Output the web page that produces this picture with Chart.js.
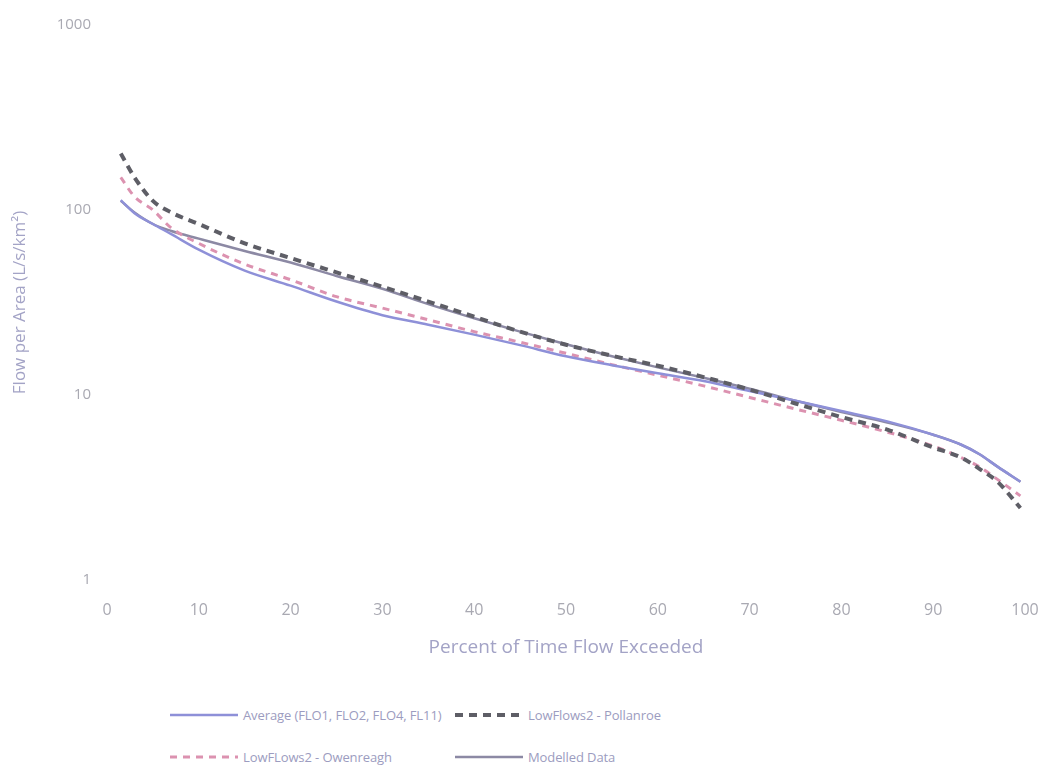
<!DOCTYPE html>
<html lang="en">
<head>
    <meta charset="UTF-8">
    <title>Flow Duration Curve</title>
    <script src="https://cdn.jsdelivr.net/npm/chart.js"></script>
    <style>
        body {
            margin: 0;
            background-color: #fff;
            font-family: 'Open Sans', sans-serif;
        }
        .wrap {
            position: relative;
            width: 1052px;
            height: 778px;
        }
        #flowChart {
            position: absolute;
            left: 0;
            top: 0;
        }
        .legend {
            position: absolute;
            left: 170px;
            top: 700px;
            display: grid;
            grid-template-columns: 285px 285px;
            grid-auto-rows: 42px;
            color: #9c9cc0;
            font-size: 13px;
            letter-spacing: -0.1px;
        }
        .legend-item {
            display: flex;
            align-items: center;
            height: 30px;
            white-space: nowrap;
        }
        .legend-item svg {
            margin-right: 5px;
            flex: none;
        }
    </style>
</head>
<body>

<div class="wrap">
    <canvas id="flowChart" width="1052" height="680"></canvas>
    <div class="legend" id="legend"></div>
</div>

<script>
// percent of time flow exceeded
const pct = [1.5, 3, 5, 7, 10, 15, 20, 25, 30, 35, 40, 45, 50, 55, 60, 65, 70, 75, 80, 85, 90, 93, 95, 97, 99.5];

// flow per area (L/s/km2)
const averageFlow   = [113, 96, 84, 74, 61, 47, 39, 32, 27, 24, 21.2, 18.6, 16.2, 14.5, 13.1, 11.9, 10.5, 9.3, 8.2, 7.2, 6.1, 5.4, 4.8, 4.1, 3.4];
const pollanroeFlow = [202, 150, 112, 97, 84, 66, 55, 46, 38.5, 32, 26.5, 22, 18.7, 16.3, 14.4, 12.5, 10.7, 9.0, 7.6, 6.5, 5.2, 4.6, 4.0, 3.4, 2.45];
const owenreaghFlow = [150, 118, 100, 80, 66, 51, 42, 34, 29.5, 25.5, 22, 19.3, 16.8, 14.6, 12.8, 11.2, 9.7, 8.4, 7.3, 6.3, 5.3, 4.6, 4.1, 3.5, 2.85];
const modelledFlow  = [112, 97, 84, 77, 70, 60, 52, 44, 37.5, 31, 26, 22, 18.8, 16.2, 14.1, 12.4, 10.8, 9.3, 8.1, 7.1, 6.1, 5.4, 4.8, 4.1, 3.4];

const seriesNames = ['Average (FLO1, FLO2, FLO4, FL11)', 'LowFlows2 - Pollanroe', 'LowFLows2 - Owenreagh', 'Modelled Data'];
const xTicks = [0, 10, 20, 30, 40, 50, 60, 70, 80, 90, 100];
const yTicks = [1, 10, 100, 1000];

const tickColor = '#a9a9b2';
const titleColor = '#a3a3c6';

function toPoints(values) {
    return values.map((v, i) => ({ x: pct[i], y: v }));
}

const datasets = [
    {
        label: seriesNames[0],
        data: toPoints(averageFlow),
        borderColor: '#8e90d8',
        borderWidth: 2.5,
        borderDash: [],
        order: 2
    },
    {
        label: seriesNames[1],
        data: toPoints(pollanroeFlow),
        borderColor: '#5e5e66',
        borderWidth: 4,
        borderDash: [8, 6],
        order: 1
    },
    {
        label: seriesNames[2],
        data: toPoints(owenreaghFlow),
        borderColor: '#dc92b0',
        borderWidth: 3,
        borderDash: [7, 6],
        order: 3
    },
    {
        label: seriesNames[3],
        data: toPoints(modelledFlow),
        borderColor: '#8c89a4',
        borderWidth: 2.5,
        borderDash: [],
        order: 4
    }
];

datasets.forEach(ds => {
    ds.pointRadius = 0;
    ds.fill = false;
    ds.cubicInterpolationMode = 'monotone';
});

const ctx = document.getElementById('flowChart').getContext('2d');

new Chart(ctx, {
    type: 'line',
    data: { datasets: datasets },
    options: {
        responsive: false,
        animation: false,
        layout: {
            padding: { left: 0, right: 27, top: 18, bottom: 0 }
        },
        plugins: {
            legend: { display: false },
            tooltip: { enabled: false }
        },
        scales: {
            x: {
                type: 'linear',
                min: 0,
                max: 100,
                grid: { display: false, drawTicks: false },
                border: { display: false },
                afterBuildTicks: scale => {
                    scale.ticks = xTicks.map(v => ({ value: v }));
                },
                afterFit: scale => {
                    scale.height = 100;
                    scale.paddingLeft = 0;
                    scale.paddingRight = 0;
                },
                ticks: {
                    color: tickColor,
                    padding: 21,
                    maxRotation: 0,
                    font: { family: 'Open Sans', size: 16 }
                },
                title: {
                    display: true,
                    text: 'Percent of Time Flow Exceeded',
                    color: titleColor,
                    font: { family: 'Open Sans', size: 19 },
                    padding: { top: 4, bottom: 21 }
                }
            },
            y: {
                type: 'logarithmic',
                min: 1,
                max: 1000,
                grid: { display: false, drawTicks: false },
                border: { display: false },
                afterBuildTicks: scale => {
                    scale.ticks = yTicks.map(v => ({ value: v }));
                },
                afterFit: scale => {
                    scale.width = 107;
                },
                ticks: {
                    color: tickColor,
                    padding: 16,
                    font: { family: 'Open Sans', size: 15 },
                    callback: value => String(value)
                },
                title: {
                    display: true,
                    text: 'Flow per Area (L/s/km²)',
                    color: titleColor,
                    font: { family: 'Open Sans', size: 17 },
                    padding: { top: 10, bottom: 0 }
                }
            }
        }
    }
});

// legend below the chart, two columns like the original
const legendEl = document.getElementById('legend');
[0, 1, 2, 3].forEach(i => {
    const ds = datasets[i];
    const item = document.createElement('div');
    item.className = 'legend-item';
    const dash = ds.borderDash.length ? ds.borderDash.join(' ') : 'none';
    item.innerHTML =
        '<svg width="68" height="10"><line x1="0" y1="5" x2="68" y2="5" stroke="' + ds.borderColor +
        '" stroke-width="' + ds.borderWidth + '" stroke-dasharray="' + dash + '"/></svg>' +
        '<span>' + ds.label + '</span>';
    legendEl.appendChild(item);
});
</script>

</body>
</html>
